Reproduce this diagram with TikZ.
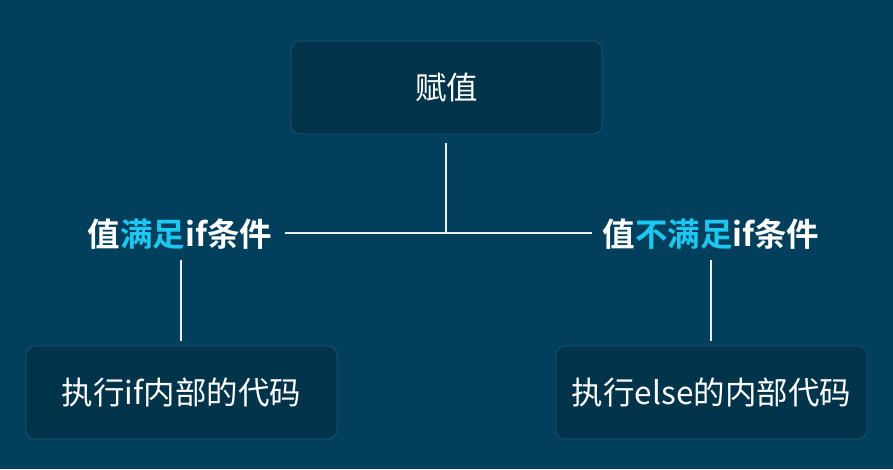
\documentclass[tikz,border=0pt]{standalone}
\usepackage{fontspec}
\setmainfont{Noto Sans CJK SC}
\newfontfamily\cjk{Noto Sans CJK SC}
\newfontfamily\cjkb{Noto Sans CJK SC Bold}
\definecolor{bgc}{HTML}{023F5C}
\definecolor{boxc}{HTML}{01344B}
\definecolor{boxline}{HTML}{1D5373}
\definecolor{hl}{HTML}{1CC8F2}
\definecolor{linec}{HTML}{E8EEF2}
\begin{document}
\begin{tikzpicture}[x=1pt,y=-1pt,
  box/.style={draw=boxline,line width=0.8pt,fill=boxc,rounded corners=9pt,minimum width=311pt,minimum height=93pt,inner sep=0pt,text=white,font=\fontsize{31.5}{34}\selectfont},
  lbl/.style={text=white,inner sep=2pt,font=\cjkb\fontsize{32.5}{36}\selectfont},
  conn/.style={draw=linec,line width=1.2pt}]
\fill[bgc] (0,0) rectangle (893,469);
\useasboundingbox (0,0) rectangle (893,469);
\node[box] (top) at (446.5,87.5) {赋值};
\node[box] (left) at (181.5,392.5) {执行if内部的代码};
\node[box] (right) at (711.5,392.5) {执行else的内部代码};
\node[lbl] (ly) at (180,234) {值\textcolor{hl}{满足}if条件};
\node[lbl] (ln) at (711,234) {值\textcolor{hl}{不满足}if条件};
\coordinate (j) at (446,233);
\coordinate (t1) at (446,143);
\coordinate (h1) at (285,233);
\coordinate (h2) at (592,233);
\coordinate (a1) at (181,260);
\coordinate (a2) at (181,341);
\coordinate (b1) at (711,260);
\coordinate (b2) at (711,341);
\draw[conn] (t1) -- (j);
\draw[conn] (h1) -- (h2);
\draw[conn] (a1) -- (a2);
\draw[conn] (b1) -- (b2);
\end{tikzpicture}
\end{document}
